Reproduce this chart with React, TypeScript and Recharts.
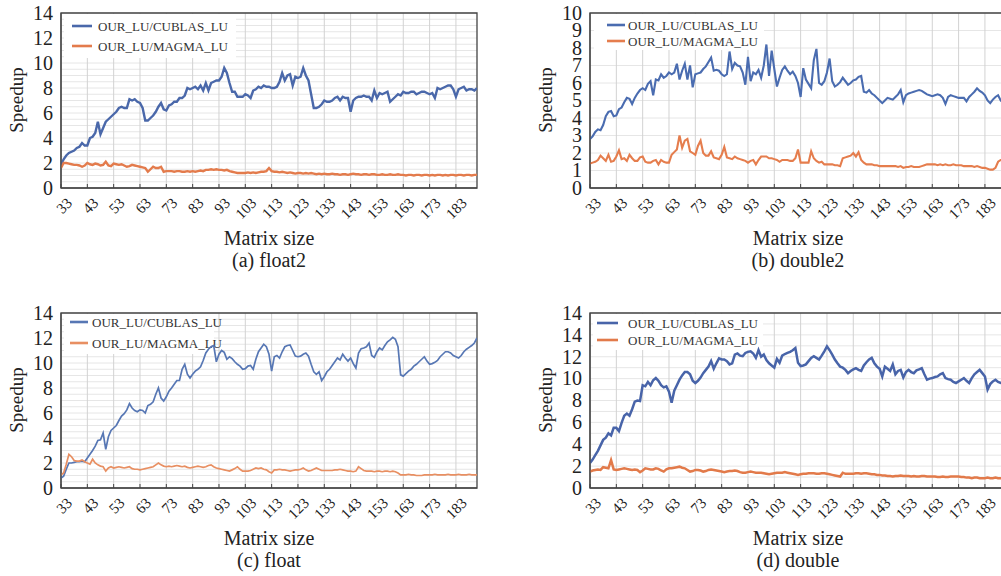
import React from "react";
import {
  LineChart,
  Line,
  XAxis,
  YAxis,
  CartesianGrid,
  ReferenceArea,
  Customized,
} from "recharts";

// matrix sizes 33..191, one sample per size
const matrixSizes = Array.from({ length: 159 }, (_, i) => 33 + i);
const sizeTicks = [33, 43, 53, 63, 73, 83, 93, 103, 113, 123, 133, 143, 153, 163, 173, 183];

const seriesNames = ["OUR_LU/CUBLAS_LU", "OUR_LU/MAGMA_LU"];

// (a) float2
const float2Cublas = [
  1.85, 2.3, 2.6, 2.8, 2.9, 3.0, 3.2, 3.3, 3.6, 3.4,
  3.4, 4.0, 4.1, 4.4, 5.3, 4.3, 4.8, 5.3, 5.5, 5.7,
  5.9, 6.1, 6.4, 6.5, 6.4, 6.4, 7.1, 7.0, 7.1, 6.9,
  6.8, 6.4, 5.4, 5.4, 5.6, 5.8, 6.1, 6.5, 6.8, 6.3,
  6.2, 6.6, 6.7, 6.9, 6.9, 7.2, 7.2, 7.4, 8.0, 7.9,
  8.0, 8.1, 7.9, 8.2, 7.8, 8.4, 7.8, 8.4, 8.5, 8.6,
  8.6, 8.9, 9.6, 9.2, 8.4, 7.7, 7.7, 7.3, 7.3, 7.3,
  7.5, 7.4, 7.2, 7.8, 7.9, 8.1, 8.0, 8.2, 8.1, 8.1,
  8.0, 8.0, 8.1, 8.5, 9.2, 8.6, 9.0, 9.1, 8.2, 8.9,
  8.8, 8.9, 9.6, 9.0, 8.6, 7.5, 6.4, 6.4, 6.5, 6.7,
  7.0, 6.9, 6.9, 7.0, 7.2, 7.3, 7.0, 7.3, 7.2, 7.2,
  6.1, 7.0, 7.2, 7.3, 7.3, 7.4, 7.3, 7.3, 7.0, 7.8,
  7.2, 7.6, 7.5, 7.6, 7.7, 6.9, 7.1, 7.3, 7.5, 7.4,
  7.7, 7.6, 7.6, 7.7, 7.7, 7.5, 7.6, 7.7, 7.7, 7.6,
  7.5, 7.6, 7.2, 8.0, 7.9, 8.0, 8.1, 8.2, 8.2, 7.9,
  7.3, 7.9, 8.0, 8.1, 7.8, 7.9, 7.9, 7.8, 8.0,
];
const float2Magma = [
  1.6, 2.0, 2.0, 1.95, 1.9, 1.85, 1.85, 1.8, 1.7, 1.8,
  2.0, 1.9, 1.85, 1.95, 1.9, 1.8, 1.85, 2.1, 1.8, 1.75,
  1.95, 1.9, 1.85, 1.9, 1.8, 1.7, 1.75, 1.85, 1.8, 1.75,
  1.7, 1.65, 1.6, 1.3, 1.5, 1.7, 1.6, 1.6, 1.7, 1.3,
  1.35, 1.35, 1.35, 1.3, 1.35, 1.35, 1.3, 1.3, 1.35, 1.3,
  1.35, 1.3, 1.35, 1.4, 1.35, 1.45, 1.45, 1.5, 1.45, 1.5,
  1.45, 1.45, 1.4, 1.45, 1.35, 1.3, 1.25, 1.2, 1.2, 1.2,
  1.2, 1.25, 1.2, 1.25, 1.2, 1.25, 1.3, 1.3, 1.35, 1.6,
  1.35, 1.3, 1.3, 1.25, 1.3, 1.25, 1.2, 1.25, 1.2, 1.15,
  1.2, 1.2, 1.15, 1.2, 1.15, 1.2, 1.15, 1.1, 1.15, 1.1,
  1.15, 1.1, 1.1, 1.15, 1.1, 1.1, 1.05, 1.1, 1.1, 1.05,
  1.1, 1.15, 1.1, 1.1, 1.05, 1.1, 1.1, 1.05, 1.1, 1.1,
  1.05, 1.05, 1.1, 1.05, 1.05, 1.1, 1.05, 1.05, 1.1, 1.05,
  1.05, 1.0, 1.05, 1.05, 1.0, 1.05, 1.05, 1.0, 1.05, 1.05,
  1.0, 1.05, 1.0, 1.05, 1.05, 1.0, 1.05, 1.0, 1.05, 1.05,
  1.0, 1.05, 1.05, 1.0, 1.05, 1.05, 1.0, 1.05, 1.05,
];

// (b) double2
const double2Cublas = [
  2.8, 2.95, 3.2, 3.35, 3.3, 3.6, 4.1, 4.35, 4.4, 4.1,
  4.15, 4.5, 4.6, 4.9, 5.15, 5.1, 4.8, 5.15, 5.4, 5.6,
  5.7, 5.6, 5.95, 6.1, 5.3, 6.2, 6.15, 6.5, 6.3, 6.4,
  6.6, 6.5, 6.6, 7.1, 6.2, 6.7, 7.1, 6.2, 7.0, 5.75,
  6.5, 6.55, 6.6, 6.8, 6.95, 7.2, 7.45, 6.7, 6.75, 6.7,
  6.5, 6.4, 6.5, 7.8, 6.8, 7.15, 7.0, 6.95, 6.6, 5.9,
  7.5, 6.1, 6.6, 6.5, 6.75, 6.3, 7.0, 8.2, 6.4, 7.85,
  6.8, 5.8, 6.3, 6.75, 6.95, 6.7, 6.5, 6.65, 6.4, 6.0,
  5.2, 6.85, 6.2, 5.95, 5.7, 7.3, 7.95, 6.0, 5.9, 6.1,
  6.6, 7.4, 6.1, 5.8, 5.9, 6.05, 6.3, 6.1, 5.9, 6.0,
  6.15, 6.2, 6.35, 6.4, 5.5, 5.45, 5.6, 5.4, 5.3, 5.15,
  5.0, 4.85, 5.0, 5.15, 5.1, 5.05, 5.2, 5.35, 5.6, 4.9,
  5.3, 5.4, 5.45, 5.5, 5.55, 5.6, 5.55, 5.45, 5.35, 5.3,
  5.25, 5.3, 5.35, 5.3, 5.15, 4.8, 5.2, 5.3, 5.25, 5.2,
  5.15, 5.15, 5.15, 4.95, 5.2, 5.35, 5.5, 5.7, 5.55, 5.45,
  5.3, 5.0, 4.85, 5.05, 5.2, 5.3, 5.0, 5.1, 5.05,
];
const double2Magma = [
  1.4, 1.45, 1.5, 1.6, 1.85, 1.7, 1.55, 1.9, 1.5, 1.55,
  1.8, 2.15, 1.65, 1.7, 1.55, 1.9, 1.7, 1.55, 1.55, 1.75,
  1.8, 1.5, 1.45, 1.45, 1.55, 1.6, 1.35, 1.6, 1.5, 1.45,
  1.45, 1.9, 2.05, 2.2, 3.0, 2.3, 2.7, 2.8, 2.1, 2.0,
  1.9, 2.4, 2.7, 2.0, 1.85, 1.85, 2.1, 1.75, 1.7, 1.65,
  1.9, 2.35, 1.75, 1.7, 1.65, 1.8, 1.7, 1.65, 1.6, 1.55,
  1.45, 1.55, 1.6, 1.35, 1.6, 1.8, 1.8, 1.8, 1.7, 1.7,
  1.65, 1.6, 1.5, 1.6, 1.6, 1.6, 1.55, 1.55, 1.7, 2.2,
  1.45, 1.45, 1.45, 1.45, 2.1, 1.7, 1.55, 1.45, 1.5, 1.35,
  1.35, 1.35, 1.35, 1.3, 1.3, 1.25, 1.7, 1.75, 1.8, 1.85,
  2.0, 1.8, 2.05, 1.6, 1.45, 1.35, 1.35, 1.35, 1.3, 1.3,
  1.25, 1.25, 1.25, 1.25, 1.25, 1.25, 1.25, 1.2, 1.25, 1.15,
  1.2, 1.2, 1.25, 1.2, 1.2, 1.2, 1.25, 1.3, 1.35, 1.35,
  1.35, 1.35, 1.3, 1.35, 1.3, 1.35, 1.3, 1.3, 1.35, 1.3,
  1.3, 1.3, 1.25, 1.25, 1.25, 1.25, 1.2, 1.25, 1.2, 1.15,
  1.15, 1.1, 1.05, 1.05, 1.15, 1.5, 1.6, 1.6, 1.6,
];

// (c) float
const floatCublas = [
  0.8, 0.95, 1.5, 2.0, 2.0, 2.05, 2.1, 2.1, 2.15, 2.1,
  2.4, 2.7, 3.0, 3.35, 3.8, 3.85, 4.4, 3.1, 4.1, 4.6,
  4.8, 5.0, 5.4, 5.75, 5.95, 6.25, 6.75, 6.4, 6.2, 6.1,
  6.25, 6.2, 6.0, 6.6, 6.7, 6.9, 7.5, 8.0, 7.2, 6.95,
  7.3, 7.75, 8.0, 8.3, 8.6, 8.6, 9.5, 9.9, 9.1, 8.8,
  9.1, 9.35, 9.5, 9.7, 10.2, 10.8, 11.1, 11.3, 11.4, 10.1,
  10.7, 11.0, 10.85, 10.3, 10.5, 10.35, 10.1, 9.9, 9.75, 9.5,
  9.55, 9.75, 9.8, 9.5, 10.3, 10.9, 11.2, 11.5, 11.3, 10.7,
  9.35, 10.5, 10.6, 10.4, 10.9, 11.3, 11.4, 11.45, 11.0, 10.55,
  10.5, 10.55, 10.7, 10.8, 10.55, 9.9, 9.3, 9.1, 9.3, 8.6,
  8.9, 9.3, 9.5, 9.8, 10.1, 10.4, 10.25, 10.7, 10.4, 10.15,
  10.4, 9.95, 9.6, 10.8, 11.15, 11.2, 11.3, 11.6, 10.6, 10.45,
  10.9, 11.2, 11.05, 11.4, 11.7, 11.85, 12.05, 11.9, 11.3, 9.05,
  8.95, 9.15, 9.35, 9.5, 9.75, 9.9, 10.1, 10.3, 10.5, 10.15,
  9.9, 9.95, 10.05, 10.2, 10.5, 10.7, 10.9, 10.9, 10.8, 10.6,
  10.5, 10.4, 10.6, 10.9, 11.1, 11.25, 11.4, 11.6, 12.0,
];
const floatMagma = [
  1.05, 1.2, 1.9, 2.7, 2.5, 2.2, 2.15, 2.15, 2.25, 2.1,
  2.0, 1.9, 2.3, 2.0, 1.85, 1.75, 1.7, 1.35, 1.6, 1.7,
  1.6, 1.65, 1.7, 1.65, 1.6, 1.65, 1.7, 1.55, 1.5, 1.5,
  1.45, 1.5, 1.55, 1.6, 1.65, 1.7, 1.85, 2.0, 1.85, 1.75,
  1.7, 1.75, 1.7, 1.75, 1.8, 1.75, 1.7, 1.75, 1.65, 1.6,
  1.65, 1.7, 1.75, 1.7, 1.65, 1.7, 1.8, 1.85, 1.7, 1.6,
  1.55, 1.5, 1.45, 1.4, 1.35, 1.45, 1.55, 1.7, 1.5, 1.35,
  1.35, 1.35, 1.4, 1.5, 1.6, 1.55, 1.6, 1.5, 1.45, 1.3,
  1.2, 1.45, 1.45, 1.5, 1.45, 1.45, 1.4, 1.35, 1.4, 1.45,
  1.45, 1.5, 1.6, 1.45, 1.35, 1.4, 1.5, 1.6, 1.5, 1.4,
  1.4, 1.4, 1.4, 1.4, 1.45, 1.45, 1.5, 1.45, 1.4, 1.35,
  1.35, 1.3, 1.35, 1.7, 1.55, 1.4, 1.35, 1.35, 1.35, 1.3,
  1.35, 1.35, 1.3, 1.35, 1.35, 1.3, 1.35, 1.3, 1.2, 1.05,
  1.05, 1.05, 1.1, 1.05, 1.05, 1.0, 1.0, 1.0, 1.05, 1.05,
  1.05, 1.05, 1.1, 1.05, 1.05, 1.05, 1.05, 1.1, 1.05, 1.05,
  1.05, 1.1, 1.05, 1.05, 1.05, 1.1, 1.05, 1.05, 1.05,
];

// (d) double
const doubleCublas = [
  2.3, 2.6, 3.0, 3.4, 3.9, 4.4, 4.6, 5.0, 4.8, 5.5,
  5.5, 5.2, 5.95, 6.6, 6.8, 6.6, 7.2, 7.9, 8.0, 7.95,
  9.4, 9.3, 9.7, 9.4, 9.85, 10.05, 9.8, 9.4, 9.2, 9.3,
  8.8, 7.8, 8.9, 9.4, 9.9, 10.3, 10.6, 10.6, 10.4, 9.8,
  9.6, 9.8, 10.1, 10.5, 10.8, 11.1, 11.6, 10.9, 11.4, 11.85,
  11.75, 11.75, 11.6, 11.3, 11.4, 12.2, 12.3, 12.1, 12.05, 12.35,
  12.45, 12.5, 12.3, 11.9, 12.6, 12.0, 12.2, 11.7, 11.4, 11.2,
  11.0, 11.8, 11.45, 12.1, 12.25, 12.35, 12.45, 12.6, 12.8, 11.45,
  11.15, 11.2, 11.3, 11.6, 11.9, 12.05, 11.9, 11.75, 12.1, 12.5,
  12.95, 12.6, 12.2, 11.75, 11.4, 11.1, 11.0, 10.8, 10.5, 10.7,
  10.85, 10.95, 10.8, 10.7, 11.2, 11.5, 11.75, 11.9, 11.4, 11.1,
  10.9, 10.2, 11.1, 10.9, 10.7, 11.3, 10.4, 10.7, 10.8, 10.1,
  10.6, 10.8, 10.6, 10.5, 10.75, 10.85, 10.95, 10.4, 9.9, 10.0,
  10.05, 10.15, 10.2, 10.4, 10.5, 10.05, 9.95, 9.9, 9.7, 9.6,
  9.75, 9.9, 10.05, 9.8, 9.6, 10.05, 10.4, 10.6, 10.8, 10.5,
  10.2, 9.0, 9.5, 9.75, 9.9, 9.7, 9.6, 9.7, 9.65,
];
const doubleMagma = [
  1.5, 1.6, 1.65, 1.7, 1.65, 1.9, 1.85, 1.8, 2.55, 1.7,
  1.65, 1.7, 1.75, 1.8, 1.75, 1.7, 1.65, 1.7, 1.65, 1.45,
  1.6, 1.8, 1.75, 1.7, 1.7, 1.8, 1.75, 1.6, 1.5, 1.7,
  1.8, 1.8, 1.85, 1.9, 1.95, 1.85, 1.8, 1.65, 1.5, 1.55,
  1.65, 1.65, 1.6, 1.5, 1.55, 1.65, 1.7, 1.65, 1.6, 1.55,
  1.5, 1.45, 1.5, 1.55, 1.55, 1.6, 1.55, 1.45, 1.4, 1.4,
  1.45, 1.5, 1.45, 1.4, 1.4, 1.4, 1.35, 1.3, 1.25, 1.3,
  1.35, 1.4, 1.4, 1.4, 1.45, 1.4, 1.35, 1.3, 1.25, 1.2,
  1.25, 1.3, 1.3, 1.35, 1.35, 1.35, 1.3, 1.3, 1.35, 1.35,
  1.3, 1.25, 1.2, 1.15, 1.1, 1.05, 1.4, 1.3, 1.3, 1.3,
  1.3, 1.35, 1.35, 1.3, 1.35, 1.35, 1.3, 1.25, 1.25, 1.2,
  1.2, 1.15, 1.15, 1.1, 1.1, 1.05, 1.1, 1.1, 1.15, 1.1,
  1.1, 1.1, 1.05, 1.1, 1.05, 1.05, 1.1, 1.1, 1.05, 1.05,
  1.05, 1.05, 1.0, 1.0, 1.05, 1.0, 1.0, 1.05, 1.05, 1.05,
  1.05, 1.0, 1.0, 0.95, 0.95, 0.9, 0.95, 0.95, 0.9, 0.9,
  0.9, 0.95, 0.9, 0.9, 0.95, 0.9, 0.9, 0.9, 0.9,
];

const ticks14 = [0, 2, 4, 6, 8, 10, 12, 14];
const ticks10 = [0, 1, 2, 3, 4, 5, 6, 7, 8, 9, 10];
const ticks16 = [0, 2, 4, 6, 8, 10, 12, 14, 16];
// the double panel repeats "14" at its top tick
const ticks16Labels = ["0", "2", "4", "6", "8", "10", "12", "14", "14"];

const halfSteps = (max: number) => Array.from({ length: max * 2 + 1 }, (_, i) => i / 2);
const unitSteps = (max: number) => Array.from({ length: max + 1 }, (_, i) => i);

const SERIF = "Liberation Serif";
const CHART_W = 480;
const CHART_H = 240;
const PLOT_TOP = 13;
const PLOT_LEFT = 61;
const PLOT_RIGHT = 3;

type Panel = {
  left: number;
  top: number;
  caption: string;
  cublas: number[];
  magma: number[];
  yMax: number;
  yTicks: number[];
  yLabels?: string[];
  gridY: number[];
  blue: string;
  orange: string;
  width: number;
  legend: { x: number; y: number; gap: number; len: number; textX: number; box: number[] };
};

const panels: Panel[] = [
  {
    left: 0, top: 0, caption: "(a) float2",
    cublas: float2Cublas, magma: float2Magma,
    yMax: 14, yTicks: ticks14, gridY: halfSteps(14),
    blue: "#4a68aa", orange: "#e37b4c", width: 2.4,
    legend: { x: 72, y: 26, gap: 20, len: 20, textX: 98, box: [64, 14, 172, 44] },
  },
  {
    left: 529, top: 0, caption: "(b) double2",
    cublas: double2Cublas, magma: double2Magma,
    yMax: 10, yTicks: ticks10, gridY: unitSteps(10),
    blue: "#4a6cb0", orange: "#e57d4d", width: 2.1,
    legend: { x: 78, y: 25, gap: 16, len: 18, textX: 99, box: [65, 14, 170, 36] },
  },
  {
    left: 0, top: 300, caption: "(c) float",
    cublas: floatCublas, magma: floatMagma,
    yMax: 14, yTicks: ticks14, gridY: halfSteps(14),
    blue: "#5777b4", orange: "#e88f62", width: 1.7,
    legend: { x: 70, y: 22, gap: 21, len: 18, textX: 92, box: [64, 14, 150, 40] },
  },
  {
    left: 529, top: 300, caption: "(d) double",
    cublas: doubleCublas, magma: doubleMagma,
    yMax: 16, yTicks: ticks16, yLabels: ticks16Labels, gridY: unitSteps(16),
    blue: "#4864a9", orange: "#e27a4a", width: 2.5,
    legend: { x: 68, y: 23, gap: 17, len: 21, textX: 99, box: [64, 14, 170, 36] },
  },
];

function SizeTick({ x, y, payload }: any) {
  const ax = x + 12;
  const ay = y + 16;
  return (
    <text
      x={ax}
      y={ay}
      textAnchor="end"
      fill="#222"
      style={{ fontFamily: SERIF, fontSize: 15 }}
      transform={`rotate(-45 ${ax} ${ay})`}
    >
      {payload.value}
    </text>
  );
}

function SpeedTick({ x, y, payload, labels, ticks }: any) {
  const label = labels ? labels[ticks.indexOf(payload.value)] : String(payload.value);
  return (
    <text x={x} y={y} dy="0.34em" textAnchor="end" fill="#222" style={{ fontFamily: SERIF, fontSize: 20 }}>
      {label}
    </text>
  );
}

function LegendBox({ p }: { p: Panel }) {
  const { x, y, gap, len, textX, box } = p.legend;
  const colors = [p.blue, p.orange];
  return (
    <g>
      <rect x={box[0]} y={box[1]} width={box[2]} height={box[3]} fill="#fff" />
      {seriesNames.map((name, i) => (
        <g key={name}>
          <line x1={x} x2={x + len} y1={y + i * gap} y2={y + i * gap} stroke={colors[i]} strokeWidth={2.6} />
          <text x={textX} y={y + i * gap + 4.5} fill="#333" style={{ fontFamily: SERIF, fontSize: 13 }}>
            {name}
          </text>
        </g>
      ))}
    </g>
  );
}

function SpeedupPanel({ p }: { p: Panel }) {
  const rows = matrixSizes.map((n, i) => ({ n, cublas: p.cublas[i], magma: p.magma[i] }));
  const plotW = CHART_W - PLOT_LEFT - PLOT_RIGHT;
  const centerX = p.left + PLOT_LEFT + plotW / 2;
  const caption = {
    position: "absolute" as const,
    left: centerX,
    transform: "translate(-50%, -50%)",
    fontSize: 20,
    whiteSpace: "nowrap" as const,
    color: "#222",
  };
  return (
    <>
      <div style={{ position: "absolute", left: p.left, top: p.top }}>
        <LineChart
          width={CHART_W}
          height={CHART_H}
          data={rows}
          margin={{ top: PLOT_TOP, right: PLOT_RIGHT, left: 0, bottom: 12 }}
        >
          <CartesianGrid horizontal={true} vertical={false} horizontalValues={p.gridY} stroke="#e6e6e6" />
          <CartesianGrid horizontal={false} vertical={true} verticalValues={sizeTicks} stroke="#d2d2d2" />
          <Customized component={<LegendBox p={p} />} />
          <Line dataKey="cublas" stroke={p.blue} strokeWidth={p.width} dot={false} isAnimationActive={false} />
          <Line dataKey="magma" stroke={p.orange} strokeWidth={p.width} dot={false} isAnimationActive={false} />
          <ReferenceArea x1={33} x2={191} y1={0} y2={p.yMax} fill="none" stroke="#444" strokeWidth={1.3} />
          <XAxis
            dataKey="n"
            type="number"
            domain={[33, 191]}
            ticks={sizeTicks}
            interval={0}
            height={40}
            tick={<SizeTick />}
            tickSize={-4}
            tickMargin={4}
            stroke="#444"
            allowDataOverflow
          />
          <YAxis
            type="number"
            domain={[0, p.yMax]}
            ticks={p.yTicks}
            interval={0}
            width={PLOT_LEFT}
            tickLine={false}
            stroke="#444"
            tick={<SpeedTick labels={p.yLabels} ticks={p.yTicks} />}
          />
        </LineChart>
      </div>
      <div
        style={{
          position: "absolute",
          left: p.left + 17,
          top: p.top + 100,
          transform: "translate(-50%, -50%) rotate(-90deg)",
          fontSize: 19,
          whiteSpace: "nowrap",
          color: "#222",
        }}
      >
        Speedup
      </div>
      <div style={{ ...caption, top: p.top + 238 }}>Matrix size</div>
      <div style={{ ...caption, top: p.top + 260 }}>{p.caption}</div>
    </>
  );
}

export default function App() {
  return (
    <div
      style={{
        position: "fixed",
        left: 0,
        top: 0,
        width: 1001,
        height: 576,
        overflow: "hidden",
        background: "#fff",
        fontFamily: SERIF,
      }}
    >
      {panels.map((p) => (
        <SpeedupPanel key={p.caption} p={p} />
      ))}
    </div>
  );
}
